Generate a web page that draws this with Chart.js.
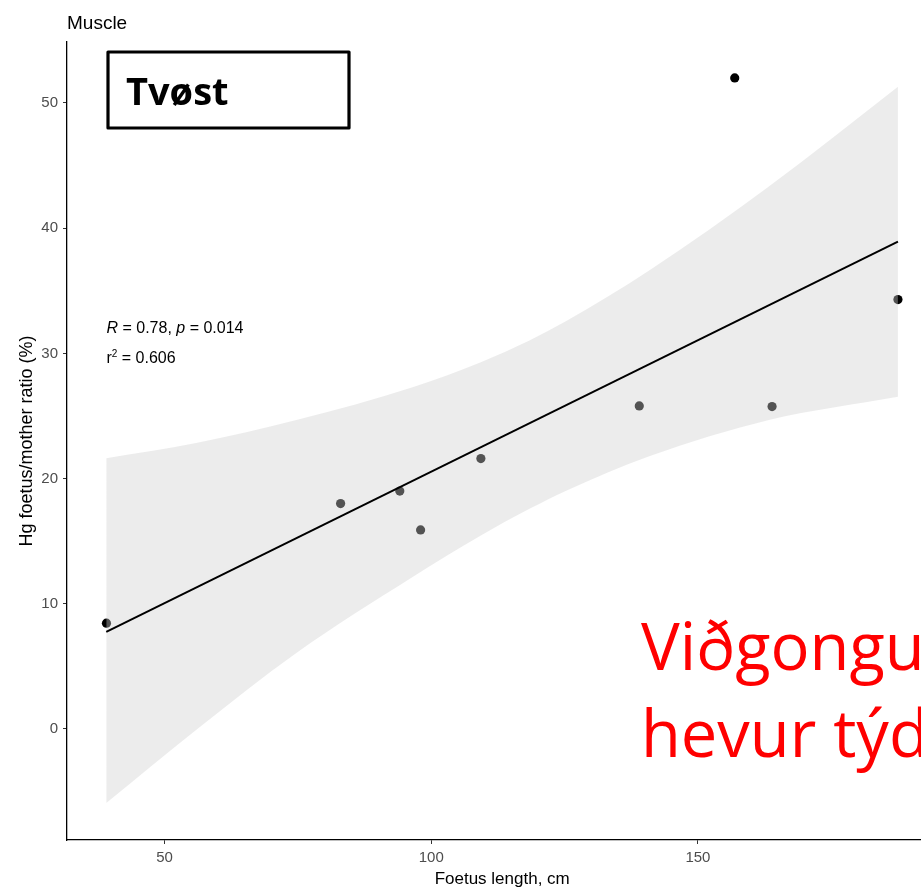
<!DOCTYPE html>
<html>
<head>
<meta charset="utf-8">
<script src="https://cdn.jsdelivr.net/npm/chart.js@4"></script>
<style>
  html, body { margin: 0; padding: 0; background: #fff; overflow: hidden; }
  #wrap { position: relative; width: 942px; height: 890px; }
</style>
</head>
<body>
<div id="wrap"><canvas id="chartMuscle"></canvas></div>
<script>
// Données
const longueurs = [39.1, 83.0, 94.1, 98.0, 109.3, 139.0, 156.9, 163.9, 187.5];
const ratios    = [8.45, 18.0, 19.0, 15.9, 21.6, 25.8, 52.0, 25.75, 34.3];

const droiteX = [39.06, 187.5];
const droiteY = [7.75, 38.92];

const bandeX    = [39.06, 55.9, 74.7, 96.5, 109.3, 118.5, 125.4, 141.0, 163.3, 187.5];
const bandeHaut = [21.62, 22.84, 24.68, 27.3, 29.3, 31.05, 32.6, 36.66, 43.32, 51.3];
const bandeBas  = [-5.91, -0.08, 6.07, 12.14, 15.45, 17.6, 19.05, 21.8, 24.68, 26.54];

const ticksX = [50, 100, 150];
const ticksY = [0, 10, 20, 30, 40, 50];

const toXY = (xs, ys) => xs.map((x, i) => ({ x: x, y: ys[i] }));

// Textes ajoutés par-dessus le graphique
const annotations = {
  id: 'annotations',
  afterDraw(chart) {
    const ctx = chart.ctx;
    const sx = chart.scales.x, sy = chart.scales.y;
    ctx.save();

    // titre du panneau
    ctx.fillStyle = '#000';
    ctx.font = '19px "Liberation Sans", Arial, sans-serif';
    ctx.textBaseline = 'alphabetic';
    ctx.textAlign = 'left';
    ctx.fillText('Muscle', 67, 29);

    // R et p
    let x = sx.getPixelForValue(39.1);
    let y = sy.getPixelForValue(31.6);
    const parts = [['R', true], [' = 0.78, ', false], ['p', true], [' = 0.014', false]];
    parts.forEach(([t, it]) => {
      ctx.font = (it ? 'italic ' : '') + '16px "Liberation Sans", Arial, sans-serif';
      ctx.fillText(t, x, y);
      x += ctx.measureText(t).width;
    });
    x = sx.getPixelForValue(39.1);
    y = sy.getPixelForValue(29.2);
    ctx.font = '16px "Liberation Sans", Arial, sans-serif';
    ctx.fillText('r', x, y);
    let w = ctx.measureText('r').width;
    ctx.font = '10px "Liberation Sans", Arial, sans-serif';
    ctx.fillText('2', x + w, y - 6);
    w += ctx.measureText('2').width;
    ctx.font = '16px "Liberation Sans", Arial, sans-serif';
    ctx.fillText(' = 0.606', x + w, y);

    // encadré Tvøst
    ctx.lineWidth = 3.2;
    ctx.strokeStyle = '#000';
    ctx.lineJoin = 'round';
    ctx.strokeRect(108, 52, 241, 76);
    ctx.font = 'bold 38px "Open Sans", sans-serif';
    ctx.fillText('Tvøst', 126, 105);

    // texte rouge
    ctx.fillStyle = '#ff0000';
    ctx.font = '65px "Open Sans", sans-serif';
    ctx.fillText('Viðgongu', 641, 670);
    ctx.fillText('hevur týd', 641, 757);
    ctx.restore();
  }
};

const ctx = document.getElementById('chartMuscle').getContext('2d');
new Chart(ctx, {
  type: 'scatter',
  data: {
    datasets: [
      {
        type: 'line',
        label: 'fit',
        data: toXY(droiteX, droiteY),
        borderColor: '#000',
        borderWidth: 2,
        pointRadius: 0,
        fill: false,
        order: 0
      },
      {
        type: 'line',
        label: 'ci haut',
        data: toXY(bandeX, bandeHaut),
        borderWidth: 0,
        borderColor: 'rgba(0,0,0,0)',
        backgroundColor: 'rgba(207,207,207,0.4)',
        pointRadius: 0,
        cubicInterpolationMode: 'monotone',
        fill: '+1',
        order: 1
      },
      {
        type: 'line',
        label: 'ci bas',
        data: toXY(bandeX, bandeBas),
        borderWidth: 0,
        borderColor: 'rgba(0,0,0,0)',
        pointRadius: 0,
        cubicInterpolationMode: 'monotone',
        fill: false,
        order: 1
      },
      {
        label: 'points',
        data: toXY(longueurs, ratios),
        backgroundColor: '#000',
        borderWidth: 0,
        pointRadius: 4.6,
        order: 2
      }
    ]
  },
  options: {
    responsive: true,
    maintainAspectRatio: false,
    animation: false,
    layout: { padding: { top: 42, right: 1, left: 0, bottom: 0 } },
    plugins: { legend: { display: false }, tooltip: { enabled: false } },
    scales: {
      x: {
        type: 'linear',
        min: 31.7,
        max: 194.9,
        afterBuildTicks: s => { s.ticks = ticksX.map(v => ({ value: v })); },
        afterFit: s => { s.height = 50; },
        border: { display: true, color: '#000', width: 1.3 },
        grid: { drawOnChartArea: false, drawTicks: true, tickLength: 4, color: '#333' },
        ticks: { color: '#4d4d4d', padding: 5, font: { family: '"Liberation Sans", Arial, sans-serif', size: 15 } },
        title: {
          display: true,
          text: 'Foetus length, cm',
          color: '#000',
          font: { family: '"Liberation Sans", Arial, sans-serif', size: 17 },
          padding: { top: 0, bottom: 0 }
        }
      },
      y: {
        type: 'linear',
        min: -8.87,
        max: 54.87,
        afterBuildTicks: s => { s.ticks = ticksY.map(v => ({ value: v })); },
        afterFit: s => { s.width = 67; },
        border: { display: true, color: '#000', width: 1.3 },
        grid: { drawOnChartArea: false, drawTicks: true, tickLength: 4, color: '#333' },
        ticks: { color: '#4d4d4d', padding: 5, font: { family: '"Liberation Sans", Arial, sans-serif', size: 15 } },
        title: {
          display: true,
          text: 'Hg foetus/mother ratio (%)',
          color: '#000',
          font: { family: '"Liberation Sans", Arial, sans-serif', size: 18 },
          padding: { top: 16, bottom: 0 }
        }
      }
    }
  },
  plugins: [annotations]
});
</script>
</body>
</html>
